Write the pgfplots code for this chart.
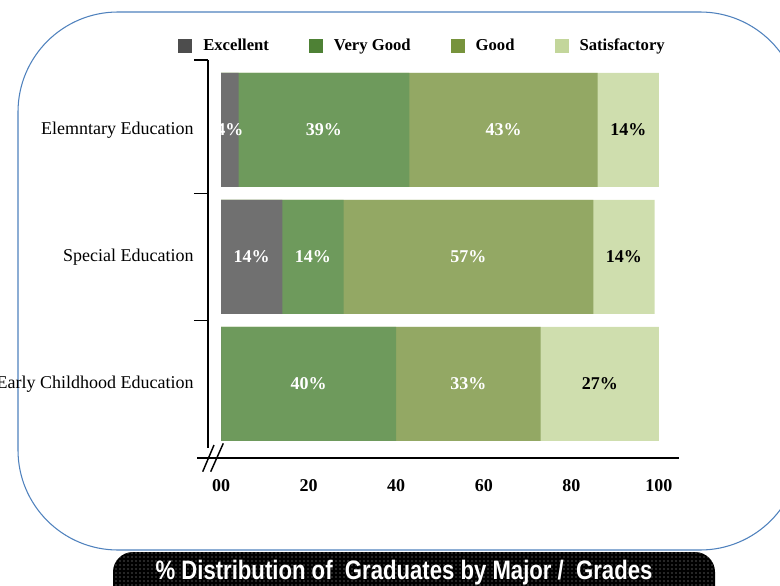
\documentclass[border=0pt]{standalone}
\usepackage{pgfplots}
\pgfplotsset{compat=1.18}
\usepackage{pgfplotstable}
\usepackage{fontspec}
\setmainfont{Liberation Serif}
\newfontfamily\bannerfont{Liberation Sans}
\usetikzlibrary{patterns}

\definecolor{frameblue}{HTML}{4F81BD}
\definecolor{legExc}{HTML}{4D4D4D}
\definecolor{legVG}{HTML}{4E8135}
\definecolor{legGood}{HTML}{77933C}
\definecolor{legSat}{HTML}{C3D69B}
\definecolor{barExc}{HTML}{707070}
\definecolor{barVG}{HTML}{6E9A5C}
\definecolor{barGood}{HTML}{93A864}
\definecolor{barSat}{HTML}{CFDEAE}

% percentages per major (y: 2 = top row)
\pgfplotstableread{
y exc vg good sat
2 4  39 43 14
1 14 14 57 14
0 0  40 33 27
}\grades

\newcommand{\lbl}{\bfseries\fontsize{13.5}{16}\selectfont}

\begin{document}
\begin{tikzpicture}
\begin{scope}[x=0.75pt,y=-0.75pt]
\useasboundingbox (0,0) rectangle (780,585);
\end{scope}
\clip (0pt,0pt) rectangle (585pt,-438.75pt);
\begin{scope}[x=0.75pt,y=-0.75pt]
\draw[frameblue, line width=0.8pt, rounded corners=75pt] (18,12) rectangle (800,550);
\end{scope}

\begin{axis}[
    at={(156pt,-343.5pt)}, anchor=south west,
    scale only axis, width=353.25pt, height=298.5pt,
    xmin=-2.97, xmax=104.57, ymin=-0.583, ymax=2.551,
    clip=false,
    /pgf/number format/assume math mode=true,
    axis x line=bottom, axis y line=left,
    axis line style={draw=none},
    xtick={0,20,40,60,80,100},
    xticklabels={00,20,40,60,80,100},
    xtick style={draw=none},
    xticklabel style={font=\lbl, inner sep=0pt, anchor=north, yshift=-13.5pt},
    ytick={0,1,2},
    yticklabels={Early Childhood Education,Special Education,Elemntary Education},
    ytick style={draw=none},
    yticklabel style={font=\fontsize{13.5}{16}\selectfont, inner sep=0pt, anchor=east, xshift=-8.5pt},
    extra y ticks={0.5,1.5,2.551},
    extra y tick labels={},
    extra y tick style={ytick style={draw=black, line width=1pt}, major tick length=10.5pt, tick align=outside},
    legend image code/.code={\fill[#1, draw=none] (0pt,-5.25pt) rectangle (10.5pt,5.25pt);},
    legend columns=4,
    legend cell align=left,
    legend style={at={(-0.0637,1.0352)}, anchor=west, draw=none, fill=none,
        inner sep=0pt, font=\bfseries\fontsize{12.5}{15}\selectfont,
        nodes={inner sep=0pt},
        /tikz/every odd column/.append style={column sep=8.25pt},
        /tikz/every even column/.append style={column sep=30pt}},
]
\addlegendimage{fill=legExc}\addlegendentry{Excellent}
\addlegendimage{fill=legVG}\addlegendentry{Very Good}
\addlegendimage{fill=legGood}\addlegendentry{Good}
\addlegendimage{fill=legSat}\addlegendentry{Satisfactory}

% bars, drawn back to front from the cumulative sums
\addplot[forget plot, xbar, bar width=0.898, bar shift=0pt, draw=none, fill=barSat]
    table[x expr=\thisrow{exc}+\thisrow{vg}+\thisrow{good}+\thisrow{sat}, y=y] {\grades};
\addplot[forget plot, xbar, bar width=0.898, bar shift=0pt, draw=none, fill=barGood]
    table[x expr=\thisrow{exc}+\thisrow{vg}+\thisrow{good}, y=y] {\grades};
\addplot[forget plot, xbar, bar width=0.898, bar shift=0pt, draw=none, fill=barVG]
    table[x expr=\thisrow{exc}+\thisrow{vg}, y=y] {\grades};
\addplot[forget plot, xbar, bar width=0.898, bar shift=0pt, draw=none, fill=barExc]
    table[x=exc, y=y] {\grades};

% value labels at the middle of each segment
\pgfplotsset{vallbl/.style={forget plot, only marks, mark=none, point meta=explicit,
    nodes near coords={\pgfmathprintnumber{\pgfplotspointmeta}\%},
    every node near coord/.append style={anchor=center, font=\lbl, text=#1}}}
\addplot[vallbl=white, skip coords between index={2}{3}]
    table[x expr=\thisrow{exc}/2, y=y, meta=exc] {\grades};
\addplot[vallbl=white]
    table[x expr=\thisrow{exc}+\thisrow{vg}/2, y=y, meta=vg] {\grades};
\addplot[vallbl=white]
    table[x expr=\thisrow{exc}+\thisrow{vg}+\thisrow{good}/2, y=y, meta=good] {\grades};
\addplot[vallbl=black]
    table[x expr=\thisrow{exc}+\thisrow{vg}+\thisrow{good}+\thisrow{sat}/2, y=y, meta=sat] {\grades};
\end{axis}

\begin{scope}[x=0.75pt,y=-0.75pt]
% axis lines with the break marks
\draw[line width=1.1pt] (208,60) -- (208,448);
\draw[line width=1.1pt] (197,458) -- (679,458);
\draw[line width=1.1pt] (202.7,471.7) -- (214,445);
\draw[line width=1.1pt] (210.7,471.7) -- (223.3,443.3);
% title banner
\fill[black, rounded corners=15pt] (113,552) rectangle (715,620);
\fill[pattern=dots, pattern color=gray!70, rounded corners=15pt] (113,552) rectangle (715,620);
\node[text=white, anchor=base, inner sep=0pt] at (404,579.5)
    {\scalebox{0.83}[1]{\bannerfont\bfseries\fontsize{20}{24}\selectfont \% Distribution of~ Graduates by Major /~ Grades}};
\end{scope}
\end{tikzpicture}
\end{document}
